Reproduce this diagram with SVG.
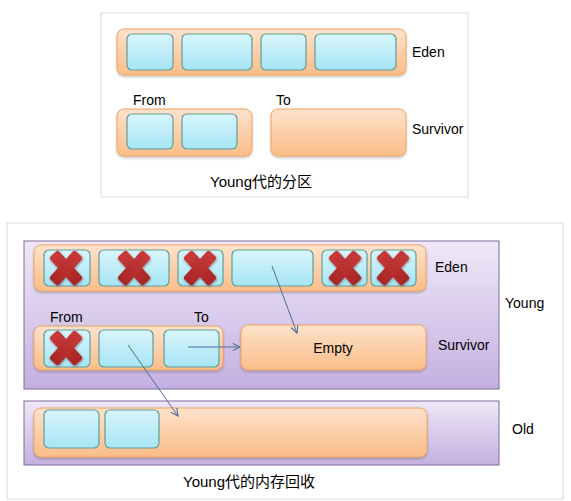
<svg xmlns="http://www.w3.org/2000/svg" width="571" height="501" viewBox="0 0 571 501">
<style>
text{font-family:"Liberation Sans","Noto Sans CJK SC",sans-serif;fill:#000;}
.lbl{font-size:14px;}
.cap{font-size:15px;}
.panel{fill:#fff;stroke:#d9d9d9;stroke-width:1;}
.org{fill:url(#gOrg);stroke:#f2a25e;stroke-width:1;filter:url(#sh);}
.cell{fill:url(#gCyan);stroke:#5e9e9a;stroke-width:1.2;}
.pur{fill:url(#gPur);stroke:#7f6b9e;stroke-width:1;}
.arr{stroke:#4e6a9c;stroke-width:1;fill:none;marker-end:url(#ah);}
</style>
<defs>
<linearGradient id="gOrg" x1="0" y1="0" x2="0" y2="1">
<stop offset="0" stop-color="#fde2cb"/><stop offset="1" stop-color="#fbbd88"/>
</linearGradient>
<linearGradient id="gCyan" x1="0" y1="0" x2="0" y2="1">
<stop offset="0" stop-color="#d9f5fb"/><stop offset="1" stop-color="#a6e5f4"/>
</linearGradient>
<linearGradient id="gPur" x1="0" y1="0" x2="0" y2="1">
<stop offset="0" stop-color="#efe8f8"/><stop offset="1" stop-color="#c4b0e0"/>
</linearGradient>
<linearGradient id="gRed" x1="0" y1="0" x2="0" y2="1">
<stop offset="0" stop-color="#c83a3a"/><stop offset="1" stop-color="#a82626"/>
</linearGradient>
<filter id="sh" x="-5%" y="-10%" width="110%" height="130%">
<feDropShadow dx="0" dy="1.5" stdDeviation="1.2" flood-color="#000" flood-opacity="0.25"/>
</filter>
<filter id="xsh" x="-30%" y="-30%" width="160%" height="160%">
<feDropShadow dx="0.5" dy="1" stdDeviation="0.8" flood-color="#5a0f0f" flood-opacity="0.5"/>
</filter>
<marker id="ah" viewBox="0 0 10 10" refX="9" refY="5" markerWidth="9" markerHeight="9" markerUnits="userSpaceOnUse" orient="auto">
<path d="M1,1 L9,5 L1,9" fill="none" stroke="#4e6a9c" stroke-width="1.2"/>
</marker>
<g id="xm" filter="url(#xsh)">
<rect x="-6" y="-19" width="12" height="38" rx="2.5" fill="url(#gRed)" transform="rotate(-42)"/>
<rect x="-6" y="-19" width="12" height="38" rx="2.5" fill="url(#gRed)" transform="rotate(42)"/>
</g>
</defs>

<g id="top-panel">
<rect class="panel" x="101" y="13" width="367" height="184"/>
</g>
<g id="top-eden">
<rect class="org" x="117" y="29" width="289" height="46" rx="7"/>
<rect class="cell" x="127" y="34" width="46" height="36" rx="5"/>
<rect class="cell" x="182" y="34" width="70" height="36" rx="5"/>
<rect class="cell" x="261" y="34" width="45" height="36" rx="5"/>
<rect class="cell" x="315" y="34" width="81" height="36" rx="5"/>
<text class="lbl" x="412" y="57">Eden</text>
</g>
<g id="top-from">
<text class="lbl" x="133" y="105">From</text>
<rect class="org" x="117" y="109" width="135" height="47" rx="7"/>
<rect class="cell" x="127" y="114" width="46" height="35" rx="5"/>
<rect class="cell" x="182" y="114" width="55" height="35" rx="5"/>
</g>
<g id="top-to">
<text class="lbl" x="276" y="105">To</text>
<rect class="org" x="271" y="109" width="135" height="47" rx="7"/>
</g>
<text class="lbl" x="412" y="134">Survivor</text>
<text class="cap" x="210" y="187">Young代的分区</text>

<g id="bottom-panel">
<rect class="panel" x="7" y="223" width="556" height="276"/>
</g>
<g id="young">
<rect class="pur" x="24" y="241" width="475" height="148"/>
<text class="lbl" x="505" y="308">Young</text>
</g>
<g id="eden">
<rect class="org" x="34" y="245" width="392" height="46" rx="7"/>
<rect class="cell" x="44" y="250" width="46" height="36" rx="5"/>
<rect class="cell" x="99" y="250" width="70" height="36" rx="5"/>
<rect class="cell" x="178" y="250" width="45" height="36" rx="5"/>
<rect class="cell" x="232" y="250" width="81" height="36" rx="5"/>
<rect class="cell" x="322" y="250" width="45" height="36" rx="5"/>
<rect class="cell" x="371" y="250" width="45" height="36" rx="5"/>
<use href="#xm" x="66" y="268"/>
<use href="#xm" x="134" y="268"/>
<use href="#xm" x="200" y="268"/>
<use href="#xm" x="345" y="268"/>
<use href="#xm" x="393" y="268"/>
<text class="lbl" x="435" y="272">Eden</text>
</g>
<g id="from">
<text class="lbl" x="50" y="322">From</text>
<text class="lbl" x="194" y="322">To</text>
<rect class="org" x="34" y="326" width="189" height="44" rx="7"/>
<rect class="cell" x="44" y="330" width="46" height="37" rx="5"/>
<rect class="cell" x="99" y="330" width="54" height="37" rx="5"/>
<rect class="cell" x="164" y="330" width="55" height="37" rx="5"/>
<use href="#xm" x="66" y="348"/>
</g>
<g id="empty">
<rect class="org" x="241" y="325" width="185" height="45" rx="7"/>
<text class="lbl" x="333" y="353" text-anchor="middle">Empty</text>
</g>
<text class="lbl" x="438" y="350">Survivor</text>
<g id="old">
<rect class="pur" x="24" y="401" width="475" height="64"/>
<rect class="org" x="34" y="408" width="393" height="49" rx="7"/>
<rect class="cell" x="44" y="410" width="55" height="38" rx="5"/>
<rect class="cell" x="105" y="410" width="54" height="38" rx="5"/>
<text class="lbl" x="512" y="434">Old</text>
</g>
<text class="cap" x="183" y="487">Young代的内存回收</text>

<g id="connectors">
<line class="arr" x1="272" y1="266" x2="297" y2="333"/>
<line class="arr" x1="188" y1="347" x2="240" y2="347"/>
<line class="arr" x1="128" y1="345" x2="178" y2="416"/>
</g>
</svg>
